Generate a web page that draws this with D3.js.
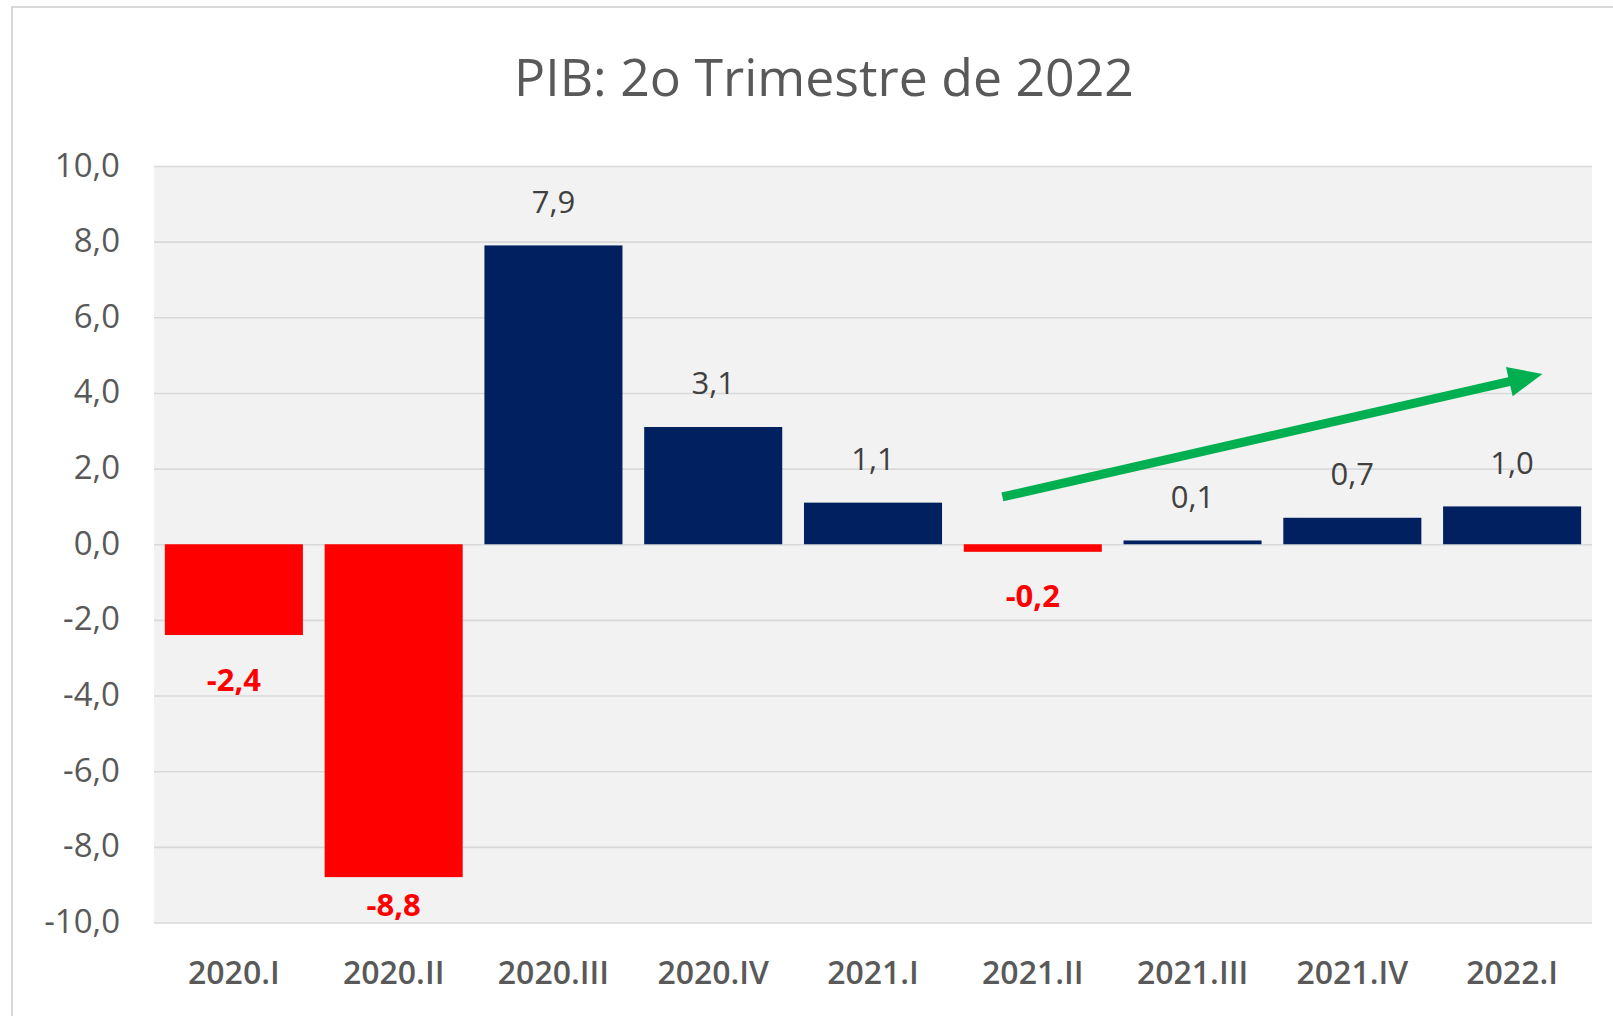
<!DOCTYPE html>
<html>
<head>
<meta charset="utf-8">
<script src="https://cdn.jsdelivr.net/npm/d3@7"></script>
<style>
  html, body { margin: 0; padding: 0; background: #ffffff; }
  svg { display: block; }
  text { font-family: "Open Sans", "Noto Sans", sans-serif; }
</style>
</head>
<body>
<svg id="chart" width="1613" height="1016"></svg>
<script>
// ---- data ----
const title = "PIB: 2o Trimestre de 2022";
const categories = ["2020.I", "2020.II", "2020.III", "2020.IV", "2021.I", "2021.II", "2021.III", "2021.IV", "2022.I"];
const values = [-2.4, -8.8, 7.9, 3.1, 1.1, -0.2, 0.1, 0.7, 1.0];
const yTicks = [-10, -8, -6, -4, -2, 0, 2, 4, 6, 8, 10];
const yDomain = [-10, 10];
// trend arrow annotation: [category, fraction across bar, value]
const arrowFrom = ["2021.II", 0.28, 1.25];
const arrowTo = ["2022.I", 0.72, 4.5];

// ---- layout ----
const svg = d3.select("#chart");
const plot = { left: 154, right: 1592, top: 166, bottom: 922.5 };
const locale = d3.formatLocale({ decimal: ",", thousands: ".", grouping: [3], currency: ["R$", ""], minus: "-" });
const comma = locale.format(".1f");

const x = d3.scaleBand()
  .domain(categories)
  .range([plot.left, plot.right])
  .paddingInner(0.136)
  .paddingOuter(0.068);

const y = d3.scaleLinear()
  .domain(yDomain)
  .range([plot.bottom, plot.top]);

// outer chart border
svg.append("rect")
  .attr("x", 12).attr("y", 7)
  .attr("width", 1800).attr("height", 1200)
  .attr("fill", "none")
  .attr("stroke", "#d9d9d9")
  .attr("stroke-width", 2);

// title
svg.append("text")
  .attr("x", 824).attr("y", 96)
  .attr("text-anchor", "middle")
  .attr("font-size", 52)
  .attr("fill", "#595959")
  .attr("textLength", 620)
  .attr("lengthAdjust", "spacingAndGlyphs")
  .text(title);

// plot background
svg.append("rect")
  .attr("x", plot.left).attr("y", plot.top)
  .attr("width", plot.right - plot.left)
  .attr("height", plot.bottom - plot.top)
  .attr("fill", "#f2f2f2");

// gridlines + y axis labels
const yAxis = d3.axisLeft(y)
  .tickValues(yTicks)
  .tickSize(-(plot.right - plot.left))
  .tickPadding(34)
  .tickFormat(comma);

const gy = svg.append("g")
  .attr("transform", `translate(${plot.left},0)`)
  .call(yAxis);
gy.select(".domain").remove();
gy.selectAll(".tick line")
  .attr("stroke", "#d9d9d9")
  .attr("stroke-width", 1.6);
gy.selectAll(".tick text")
  .attr("font-size", 33)
  .attr("fill", "#595959")
  .attr("font-family", "'Open Sans', sans-serif")
  .attr("dy", null)
  .attr("y", 10);

// bars
svg.append("g").selectAll("rect")
  .data(categories.map((c, i) => ({ c, v: values[i] })))
  .join("rect")
  .attr("x", d => x(d.c))
  .attr("width", x.bandwidth())
  .attr("y", d => y(Math.max(0, d.v)))
  .attr("height", d => Math.abs(y(d.v) - y(0)))
  .attr("fill", d => d.v < 0 ? "#ff0000" : "#002060");

// value labels
svg.append("g").selectAll("text")
  .data(categories.map((c, i) => ({ c, v: values[i] })))
  .join("text")
  .attr("x", d => x(d.c) + x.bandwidth() / 2)
  .attr("y", d => d.v < 0
    ? Math.min(y(d.v) + 44, plot.bottom - 18) + 11.5
    : y(d.v) - 32.5)
  .attr("text-anchor", "middle")
  .attr("font-size", 31)
  .attr("font-weight", d => d.v < 0 ? "bold" : "normal")
  .attr("fill", d => d.v < 0 ? "#ff0000" : "#404040")
  .text(d => comma(d.v));

// category labels
const xAxis = d3.axisBottom(x).tickSize(0).tickPadding(0);
const gx = svg.append("g")
  .attr("transform", `translate(0,${plot.bottom})`)
  .call(xAxis);
gx.select(".domain").remove();
gx.selectAll(".tick text")
  .attr("font-size", 32)
  .attr("font-weight", 600)
  .attr("fill", "#595959")
  .attr("font-family", "'Open Sans', sans-serif")
  .attr("dy", null)
  .attr("y", 61.5);

// green trend arrow
const p0 = [x(arrowFrom[0]) + arrowFrom[1] * x.bandwidth(), y(arrowFrom[2])];
const p1 = [x(arrowTo[0]) + arrowTo[1] * x.bandwidth(), y(arrowTo[2])];
const ang = Math.atan2(p1[1] - p0[1], p1[0] - p0[0]);
const headLen = 34, headHalf = 15;
const base = [p1[0] - headLen * Math.cos(ang), p1[1] - headLen * Math.sin(ang)];
svg.append("line")
  .attr("x1", p0[0]).attr("y1", p0[1])
  .attr("x2", base[0] + 2 * Math.cos(ang)).attr("y2", base[1] + 2 * Math.sin(ang))
  .attr("stroke", "#00b050")
  .attr("stroke-width", 9);
const nx = -Math.sin(ang), ny = Math.cos(ang);
svg.append("polygon")
  .attr("points", [
    p1,
    [base[0] + headHalf * nx, base[1] + headHalf * ny],
    [base[0] - headHalf * nx, base[1] - headHalf * ny]
  ].map(p => p.join(",")).join(" "))
  .attr("fill", "#00b050");
</script>
</body>
</html>
